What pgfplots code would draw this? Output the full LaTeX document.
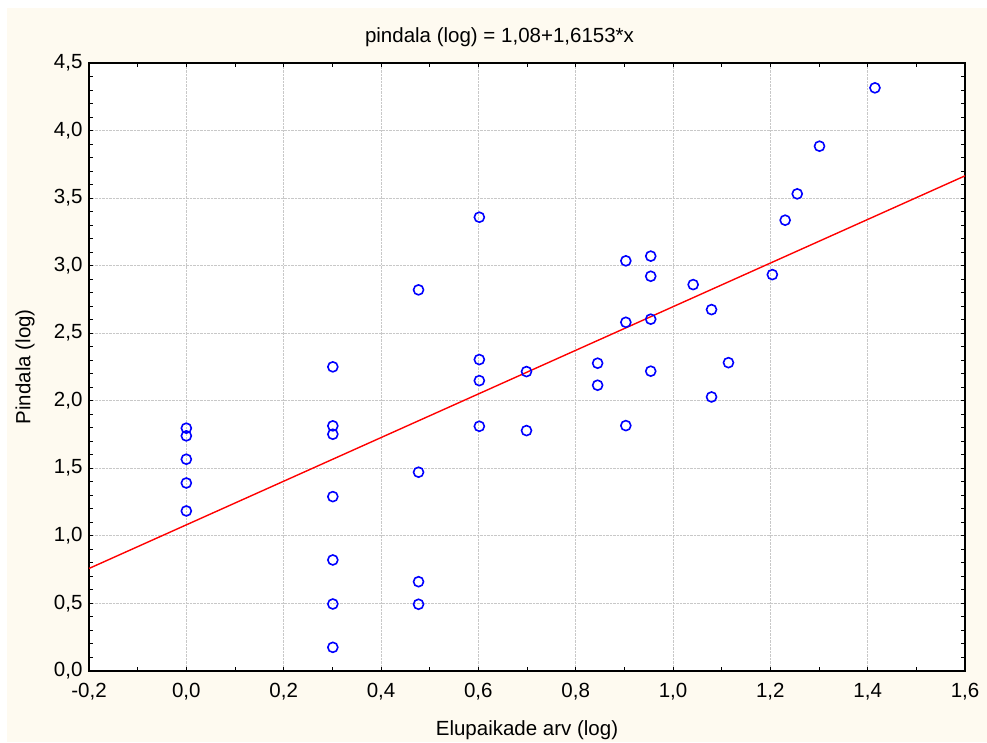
\documentclass[border=0pt]{standalone}
\usepackage{pgfplots}
\pgfplotsset{compat=1.18}
\usepackage{fontspec}
\setmainfont{Liberation Sans}
\definecolor{cream}{RGB}{254,250,240}
\definecolor{gridgray}{RGB}{200,200,200}
\begin{document}
\begin{tikzpicture}
\useasboundingbox (0pt,0pt) rectangle (987pt,742pt);
\fill[white] (0pt,0pt) rectangle (987pt,742pt);
\fill[cream] (7pt,0pt) rectangle (987pt,734pt);
\begin{scope}[shift={(89pt,71.3pt)}]
\begin{axis}[
  at={(0pt,0pt)}, anchor=south west,
  width=876pt, height=607.7pt, scale only axis,
  xmin=-0.2, xmax=1.6, ymin=0, ymax=4.5,
  xtick={-0.2,0,0.2,0.4,0.6,0.8,1.0,1.2,1.4,1.6},
  ytick={0,0.5,1,1.5,2,2.5,3,3.5,4,4.5},
  minor x tick num=1, minor y tick num=4,
  tick align=inside,
  major tick length=4pt, minor tick length=4pt,
  tick style={black, line width=0.8pt},
  axis line style={black, line width=1.6pt},
  axis background/.style={fill=white},
  grid=major,
  major grid style={gridgray, densely dotted, line width=0.7pt},
  /pgf/number format/.cd, use comma, fixed, fixed zerofill, precision=1, assume math mode=true,
  /pgfplots/.cd,
  ticklabel style={font=\fontsize{20.5}{24}\selectfont},
  xticklabel style={yshift=-9pt},
  yticklabel style={xshift=-3pt},
  xlabel={Elupaikade arv (log)},
  ylabel={Pindala (log)},
  label style={font=\fontsize{20.5}{24}\selectfont},
  xlabel style={at={(axis description cs:0.5,0)}, anchor=center, yshift=-59pt},
  ylabel style={at={(axis description cs:0,0.5)}, anchor=center, yshift=64pt},
  clip=false,
]
\addplot[red, line width=1.4pt] coordinates {(-0.2,0.75694) (1.6,3.66448)};
\addplot[only marks, mark=o, mark size=5pt, mark options={blue, line width=1.6pt}] coordinates {
(0,1.796) (0,1.739) (0,1.566) (0,1.390) (0,1.183)
(0.30103,2.250) (0.30103,1.813) (0.30103,1.751) (0.30103,1.289) (0.30103,0.820) (0.30103,0.494) (0.30103,0.173)
(0.47712,2.820) (0.47712,1.470) (0.47712,0.659) (0.47712,0.492)
(0.60206,3.358) (0.60206,2.304) (0.60206,2.148) (0.60206,1.810)
(0.69897,2.215) (0.69897,1.778)
(0.84510,2.277) (0.84510,2.114)
(0.90309,3.035) (0.90309,2.580) (0.90309,1.815)
(0.95424,3.070) (0.95424,2.921) (0.95424,2.603) (0.95424,2.218)
(1.04139,2.859)
(1.07918,2.674) (1.07918,2.027)
(1.11394,2.281)
(1.20412,2.933)
(1.23045,3.336)
(1.25527,3.531)
(1.30103,3.884)
(1.41497,4.316)
};
\end{axis}
\end{scope}
\node[font=\fontsize{20.5}{24}\selectfont, anchor=center] at (499.5pt,705pt) {pindala (log) = 1,08+1,6153*x};
\end{tikzpicture}
\end{document}
